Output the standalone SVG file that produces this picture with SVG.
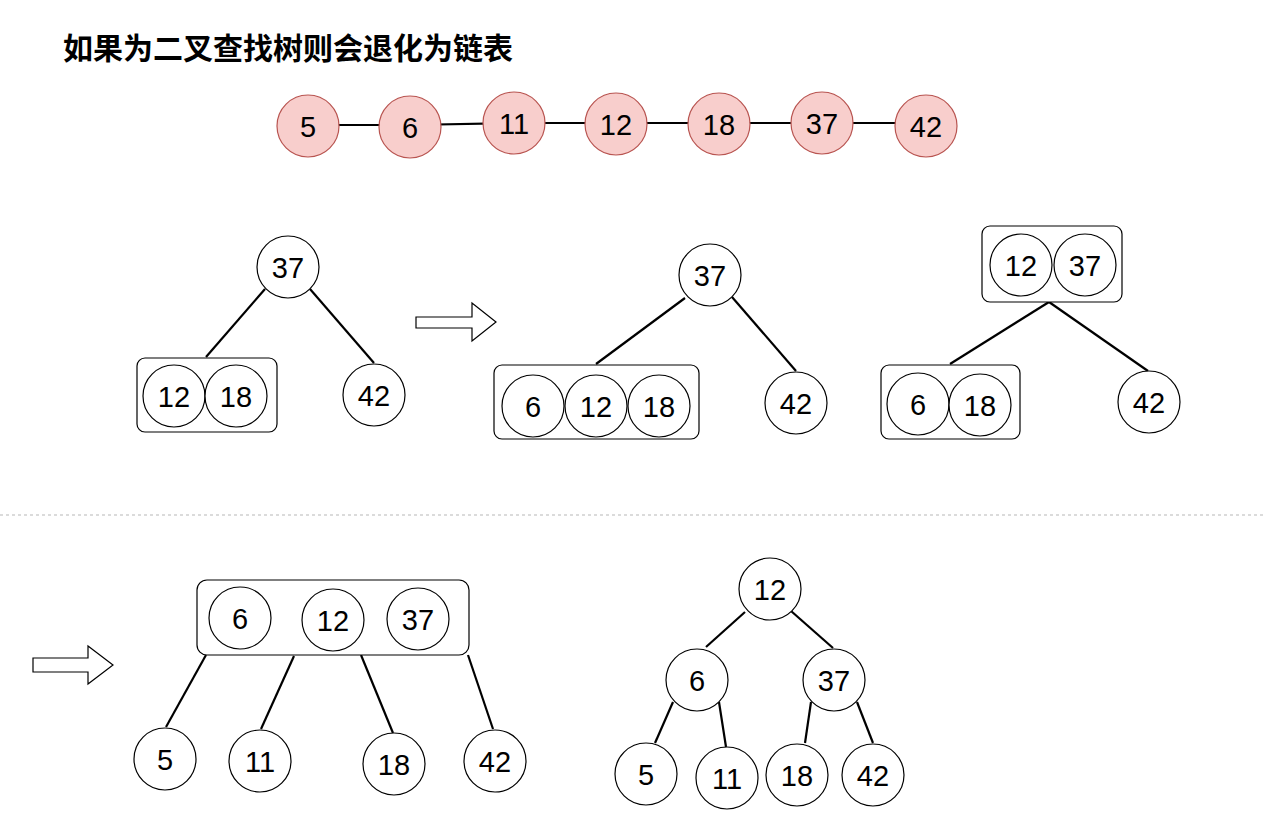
<svg xmlns="http://www.w3.org/2000/svg" width="1266" height="840" viewBox="0 0 1266 840">
<style>
.n{fill:#fff;stroke:#000;stroke-width:1.2}
.r{fill:#f8cecc;stroke:#b85450;stroke-width:1.2}
.b{fill:#fff;stroke:#000;stroke-width:1.2}
.t{font-family:"Liberation Sans",Arial,sans-serif;font-size:29px;fill:#000;text-anchor:middle}
.e{stroke:#000;stroke-width:2.2;fill:none}
.ar{fill:#fff;stroke:#000;stroke-width:1.2}
.title{font-family:"Liberation Sans","Noto Sans CJK SC",sans-serif;font-size:30px;font-weight:bold;fill:#000}
</style>
<rect width="1266" height="840" fill="#fff"/>
<text class="title" x="63" y="59">如果为二叉查找树则会退化为链表</text>
<line x1="0" y1="515" x2="1266" y2="515" stroke="#cfcfcf" stroke-width="1.5" stroke-dasharray="3 3"/>
<g id="connectors">
<line class="e" x1="308" y1="125" x2="410" y2="125"/>
<line class="e" x1="410" y1="125" x2="514" y2="123"/>
<line class="e" x1="514" y1="123" x2="616" y2="123"/>
<line class="e" x1="616" y1="123" x2="719" y2="123"/>
<line class="e" x1="719" y1="123" x2="822" y2="123"/>
<line class="e" x1="822" y1="123" x2="926" y2="123"/>
<line class="e" x1="265" y1="289" x2="206" y2="357"/>
<line class="e" x1="310" y1="289" x2="374" y2="363"/>
<line class="e" x1="685" y1="298" x2="596" y2="364"/>
<line class="e" x1="732" y1="297" x2="796" y2="371"/>
<line class="e" x1="1049" y1="302" x2="950" y2="364"/>
<line class="e" x1="1049" y1="302" x2="1148" y2="371"/>
<line class="e" x1="206" y1="655" x2="166" y2="727"/>
<line class="e" x1="294" y1="656" x2="261" y2="729"/>
<line class="e" x1="361" y1="655" x2="393" y2="733"/>
<line class="e" x1="468" y1="655" x2="493" y2="729"/>
<line class="e" x1="745" y1="612" x2="706" y2="647"/>
<line class="e" x1="791" y1="611" x2="833" y2="648"/>
<line class="e" x1="673" y1="702" x2="655" y2="743"/>
<line class="e" x1="719" y1="702" x2="726" y2="747"/>
<line class="e" x1="811" y1="702" x2="805" y2="743"/>
<line class="e" x1="857" y1="702" x2="873" y2="743"/>
</g>
<g id="chain">
<g id="c5"><circle class="r" cx="308" cy="126" r="31"/><text class="t" x="308" y="137">5</text></g>
<g id="c6"><circle class="r" cx="410" cy="127" r="31"/><text class="t" x="410" y="138">6</text></g>
<g id="c11"><circle class="r" cx="514" cy="123" r="31"/><text class="t" x="514" y="134">11</text></g>
<g id="c12"><circle class="r" cx="616" cy="124" r="31"/><text class="t" x="616" y="135">12</text></g>
<g id="c18"><circle class="r" cx="719" cy="124" r="31"/><text class="t" x="719" y="135">18</text></g>
<g id="c37"><circle class="r" cx="822" cy="123" r="31"/><text class="t" x="822" y="134">37</text></g>
<g id="c42"><circle class="r" cx="926" cy="126" r="31"/><text class="t" x="926" y="137">42</text></g>
</g>
<g id="tree1">
<g id="t1-37"><circle class="n" cx="288" cy="267" r="31"/><text class="t" x="288" y="278">37</text></g>
<g id="t1-box"><rect class="b" x="137" y="358" width="140" height="74" rx="8"/>
<circle class="n" cx="174" cy="396" r="31"/><text class="t" x="174" y="407">12</text>
<circle class="n" cx="236" cy="396" r="31"/><text class="t" x="236" y="407">18</text></g>
<g id="t1-42"><circle class="n" cx="374" cy="395" r="31"/><text class="t" x="374" y="406">42</text></g>
</g>
<g id="arrow1"><polygon class="ar" points="416,317 472,317 472,303 496,322 472,341 472,328 416,328"/></g>
<g id="tree2">
<g id="t2-37"><circle class="n" cx="710" cy="275" r="31"/><text class="t" x="710" y="286">37</text></g>
<g id="t2-box"><rect class="b" x="494" y="365" width="205" height="74" rx="8"/>
<circle class="n" cx="533" cy="406" r="31"/><text class="t" x="533" y="417">6</text>
<circle class="n" cx="596" cy="406" r="31"/><text class="t" x="596" y="417">12</text>
<circle class="n" cx="659" cy="406" r="31"/><text class="t" x="659" y="417">18</text></g>
<g id="t2-42"><circle class="n" cx="796" cy="403" r="31"/><text class="t" x="796" y="414">42</text></g>
</g>
<g id="tree3">
<g id="t3-box"><rect class="b" x="982" y="226" width="140" height="76" rx="8"/>
<circle class="n" cx="1021" cy="265" r="31"/><text class="t" x="1021" y="276">12</text>
<circle class="n" cx="1085" cy="265" r="31"/><text class="t" x="1085" y="276">37</text></g>
<g id="t3-lbox"><rect class="b" x="881" y="365" width="139" height="74" rx="8"/>
<circle class="n" cx="918" cy="404" r="31"/><text class="t" x="918" y="415">6</text>
<circle class="n" cx="980" cy="405" r="31"/><text class="t" x="980" y="416">18</text></g>
<g id="t3-42"><circle class="n" cx="1149" cy="402" r="31"/><text class="t" x="1149" y="413">42</text></g>
</g>
<g id="arrow2"><polygon class="ar" points="33,658 88,658 88,646 113,665 88,684 88,672 33,672"/></g>
<g id="tree4">
<g id="t4-box"><rect class="b" x="197" y="580" width="272" height="75" rx="10"/>
<circle class="n" cx="240" cy="618" r="31"/><text class="t" x="240" y="629">6</text>
<circle class="n" cx="333" cy="620" r="31"/><text class="t" x="333" y="631">12</text>
<circle class="n" cx="418" cy="619" r="31"/><text class="t" x="418" y="630">37</text></g>
<g id="t4-5"><circle class="n" cx="165" cy="759" r="31"/><text class="t" x="165" y="770">5</text></g>
<g id="t4-11"><circle class="n" cx="260" cy="761" r="31"/><text class="t" x="260" y="772">11</text></g>
<g id="t4-18"><circle class="n" cx="394" cy="764" r="31"/><text class="t" x="394" y="775">18</text></g>
<g id="t4-42"><circle class="n" cx="495" cy="761" r="31"/><text class="t" x="495" y="772">42</text></g>
</g>
<g id="tree5">
<g id="t5-12"><circle class="n" cx="770" cy="589" r="31"/><text class="t" x="770" y="600">12</text></g>
<g id="t5-6"><circle class="n" cx="697" cy="680" r="31"/><text class="t" x="697" y="691">6</text></g>
<g id="t5-37"><circle class="n" cx="834" cy="680" r="31"/><text class="t" x="834" y="691">37</text></g>
<g id="t5-5"><circle class="n" cx="646" cy="774" r="31"/><text class="t" x="646" y="785">5</text></g>
<g id="t5-11"><circle class="n" cx="727" cy="778" r="31"/><text class="t" x="727" y="789">11</text></g>
<g id="t5-18"><circle class="n" cx="797" cy="775" r="31"/><text class="t" x="797" y="786">18</text></g>
<g id="t5-42"><circle class="n" cx="873" cy="775" r="31"/><text class="t" x="873" y="786">42</text></g>
</g>
</svg>
